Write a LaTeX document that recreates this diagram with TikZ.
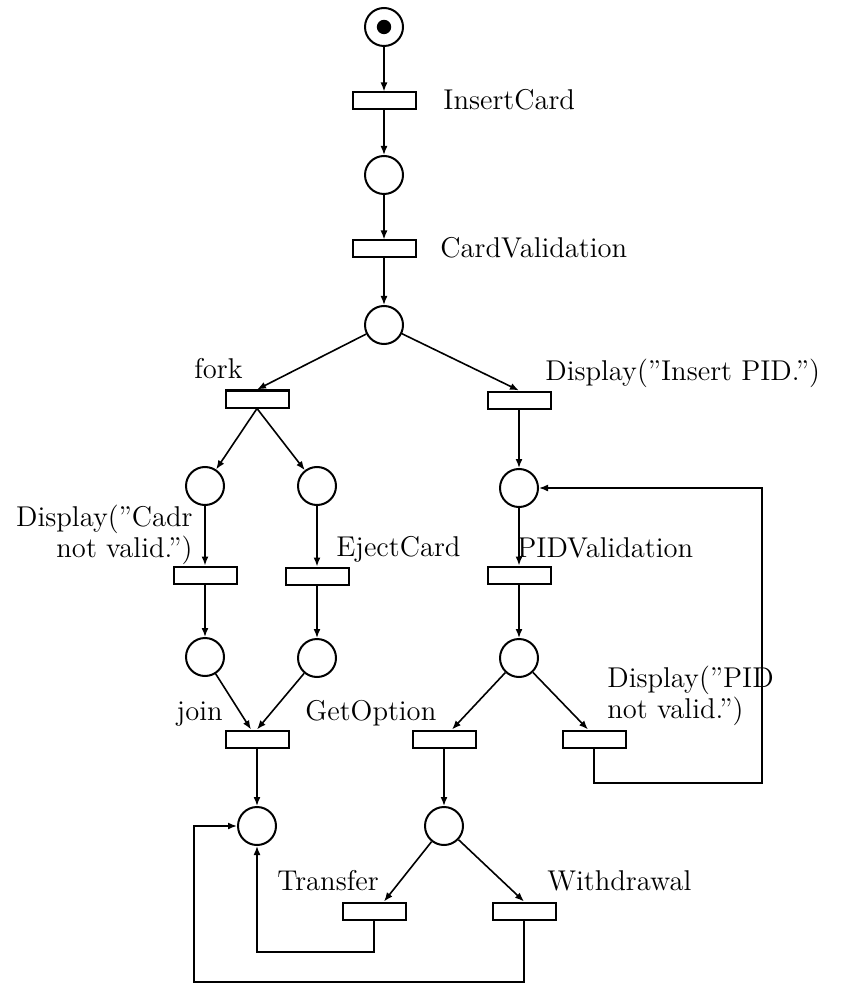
\documentclass[tikz,border=0pt]{standalone}
\usetikzlibrary{arrows.meta}
\newcommand{\qrq}{\textquotedblright}
\begin{document}
\begin{tikzpicture}[x=0.5pt,y=-0.5pt,
  place/.style={circle,draw,line width=1pt,minimum size=19pt,inner sep=0pt},
  trans/.style={rectangle,draw,line width=1pt,minimum width=31.5pt,minimum height=8.5pt,inner sep=0pt},
  lbl/.style={inner sep=0pt,font=\fontsize{14.3}{12.8}\selectfont},
  arc/.style={line width=0.8pt,-{Latex[length=4.5pt,width=3.5pt]}},
]
\useasboundingbox (0,0) rectangle (840,983);
% places and transitions
\node[place] (p0) at (384,27) {};
\fill (p0.center) circle (3.6pt);
\node[trans] (t1) at (384,101) {};
\node[place] (p1) at (384,175) {};
\node[trans] (t2) at (384,249) {};
\node[place] (p2) at (384,325) {};
\node[trans] (tf) at (257,399) {};
\node[trans] (tD) at (519,400) {};
\node[place] (pa) at (205,486) {};
\node[place] (pb) at (317,486) {};
\node[place] (pc) at (519,488) {};
\node[trans] (ta) at (205,575) {};
\node[trans] (tb) at (317,576) {};
\node[trans] (tc) at (519,575) {};
\node[place] (pa2) at (205,657) {};
\node[place] (pb2) at (317,658) {};
\node[place] (pc2) at (519,658) {};
\node[trans] (tj) at (257,739) {};
\node[trans] (tg) at (444,739) {};
\node[trans] (tn) at (594,739) {};
\node[place] (pd) at (257,826) {};
\node[place] (pe) at (444,826) {};
\node[trans] (tt) at (374,911) {};
\node[trans] (tw) at (524,911) {};
% labels
\node[lbl,anchor=base west] (l1) at (443,110) {InsertCard};
\node[lbl,anchor=base west] (l2) at (440,258) {CardValidation};
\node[lbl,anchor=base east] (lf) at (243,379) {fork};
\node[lbl,anchor=base west] (lD) at (545,380) {Display(\qrq Insert PID.\qrq)};
\node[lbl,anchor=base east,align=right] (lCa) at (193,557) {Display(\qrq Cadr\\not valid.\qrq)};
\node[lbl,anchor=base west] (lE) at (336,556) {EjectCard};
\node[lbl,anchor=base west] (lP) at (517,557) {PIDValidation};
\node[lbl,anchor=base east] (lj) at (223,720) {join};
\node[lbl,anchor=base west] (lG) at (305,720) {GetOption};
\node[lbl,anchor=base west,align=left] (lPn) at (607,718) {Display(\qrq PID\\not valid.\qrq)};
\node[lbl,anchor=base west] (lT) at (277,890) {Transfer};
\node[lbl,anchor=base west] (lW) at (547,890) {Withdrawal};
% loop corners
\coordinate (r1) at (762,783);
\coordinate (b1) at (257,952);
\coordinate (b2) at (194,982);
% arcs
\draw[arc] (p0) -- (t1);
\draw[arc] (t1) -- (p1);
\draw[arc] (p1) -- (t2);
\draw[arc] (t2) -- (p2);
\draw[arc] (p2) -- (tf.north);
\draw[arc] (p2) -- (tD.north);
\draw[arc] (tf.south) -- (pa);
\draw[arc] (tf.south) -- (pb);
\draw[arc] (tD) -- (pc);
\draw[arc] (pa) -- (ta);
\draw[arc] (pb) -- (tb);
\draw[arc] (pc) -- (tc);
\draw[arc] (ta) -- (pa2);
\draw[arc] (tb) -- (pb2);
\draw[arc] (tc) -- (pc2);
\draw[arc] (pa2) -- ([xshift=-3pt]tj.north);
\draw[arc] (pb2) -- (tj.north);
\draw[arc] (pc2) -- ([xshift=4pt]tg.north);
\draw[arc] (pc2) -- ([xshift=-3pt]tn.north);
\draw[arc] (tj) -- (pd);
\draw[arc] (tg) -- (pe);
\draw[arc] (pe) -- ([xshift=5pt]tt.north);
\draw[arc] (pe) -- (tw.north);
\draw[arc] (tn.south) |- (r1) |- (pc);
\draw[arc] (tt.south) |- (b1) -- (pd);
\draw[arc] (tw.south) |- (b2) |- (pd);
\end{tikzpicture}
\end{document}
